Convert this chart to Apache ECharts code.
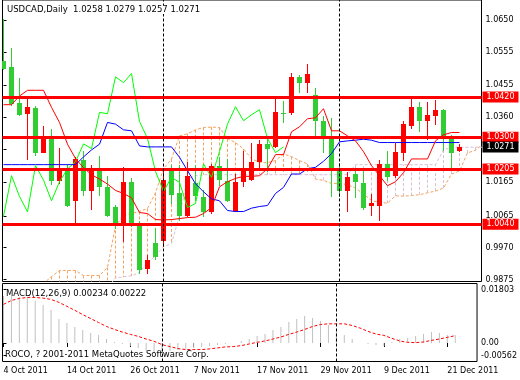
<!DOCTYPE html>
<html><head><meta charset="utf-8">
<script src="https://cdn.jsdelivr.net/npm/echarts@6/dist/echarts.min.js"></script>
<style>html,body{margin:0;padding:0;background:#fff}#c{width:520px;height:380px}</style>
</head><body><div id="c"></div>
<script>
const symbol = 'USDCAD', period = 'Daily';
const dates = ['2011-10-04','2011-10-05','2011-10-06','2011-10-07','2011-10-10','2011-10-11','2011-10-12','2011-10-13','2011-10-14','2011-10-17','2011-10-18','2011-10-19','2011-10-20','2011-10-21','2011-10-24','2011-10-25','2011-10-26','2011-10-27','2011-10-28','2011-10-31',
'2011-11-01','2011-11-02','2011-11-03','2011-11-04','2011-11-07','2011-11-08','2011-11-09','2011-11-10','2011-11-11','2011-11-14','2011-11-15','2011-11-16','2011-11-17','2011-11-18','2011-11-21','2011-11-22','2011-11-23','2011-11-24','2011-11-25','2011-11-28','2011-11-29','2011-11-30',
'2011-12-01','2011-12-02','2011-12-05','2011-12-06','2011-12-07','2011-12-08','2011-12-09','2011-12-12','2011-12-13','2011-12-14','2011-12-15','2011-12-16','2011-12-19','2011-12-20','2011-12-21','2011-12-22'];
const monthNames = ['Jan','Feb','Mar','Apr','May','Jun','Jul','Aug','Sep','Oct','Nov','Dec'];

const open  = [1.0528,1.0510,1.0403,1.0368,1.0388,1.0254,1.0296,1.0168,1.0207,1.0108,1.0233,1.0138,1.0205,1.0152,1.0093,1.0034,1.0165,1.0043,0.9906,0.9983,0.9991,1.0200,1.0134,1.0064,1.0163,1.0122,1.0078,1.0215,1.0170,1.0081,1.0165,1.0173,1.0225,1.0280,1.0271,1.0372,1.0371,1.0480,1.0463,1.0426,1.0349,1.0297,1.0200,1.0138,1.0190,1.0163,1.0094,1.0096,1.0220,1.0185,1.0252,1.0334,1.0391,1.0349,1.0364,1.0382,1.0301,1.0258];
const high  = [1.0653,1.0567,1.0478,1.0417,1.0392,1.0334,1.0325,1.0268,1.0220,1.0240,1.0260,1.0218,1.0245,1.0185,1.0099,1.0210,1.0177,1.0051,0.9947,1.0029,1.0202,1.0218,1.0218,1.0225,1.0218,1.0142,1.0220,1.0242,1.0235,1.0190,1.0260,1.0284,1.0291,1.0299,1.0414,1.0409,1.0493,1.0486,1.0520,1.0448,1.0364,1.0357,1.0222,1.0195,1.0205,1.0205,1.0130,1.0232,1.0260,1.0284,1.0347,1.0414,1.0404,1.0404,1.0411,1.0385,1.0307,1.0279];
const low   = [1.0500,1.0392,1.0364,1.0232,1.0245,1.0252,1.0156,1.0160,1.0092,1.0041,1.0125,1.0083,1.0125,1.0062,1.0027,0.9986,1.0031,0.9892,0.9892,0.9932,0.9973,1.0101,1.0051,1.0061,1.0110,1.0061,1.0072,1.0155,1.0105,1.0076,1.0150,1.0170,1.0205,1.0195,1.0268,1.0341,1.0367,1.0433,1.0433,1.0299,1.0254,1.0120,1.0120,1.0076,1.0118,1.0083,1.0064,1.0049,1.0170,1.0178,1.0228,1.0324,1.0314,1.0292,1.0336,1.0260,1.0202,1.0257];
const close = [1.0504,1.0399,1.0366,1.0391,1.0254,1.0299,1.0168,1.0204,1.0094,1.0235,1.0138,1.0204,1.0150,1.0064,1.0038,1.0165,1.0041,0.9904,0.9933,0.9941,1.0173,1.0128,1.0064,1.0185,1.0123,1.0077,1.0215,1.0172,1.0110,1.0167,1.0205,1.0227,1.0280,1.0266,1.0374,1.0370,1.0480,1.0463,1.0490,1.0347,1.0296,1.0198,1.0138,1.0180,1.0165,1.0090,1.0102,1.0220,1.0180,1.0257,1.0339,1.0391,1.0349,1.0367,1.0382,1.0296,1.0254,1.0271];

const tenkan = [1.0397,1.0397,1.0423,1.0440,1.0440,1.0440,1.0389,1.0344,1.0279,1.0236,1.0209,1.0188,1.0175,1.0160,1.0141,1.0132,1.0119,1.0075,1.0072,1.0054,1.0053,1.0054,1.0057,1.0060,1.0061,1.0072,1.0090,1.0152,1.0167,1.0177,1.0183,1.0183,1.0185,1.0206,1.0248,1.0248,1.0316,1.0331,1.0355,1.0358,1.0385,1.0319,1.0319,1.0304,1.0289,1.0257,1.0215,1.0185,1.0155,1.0167,1.0194,1.0235,1.0235,1.0235,1.0289,1.0307,1.0314,1.0314];
const kijun = [1.0218,1.0218,1.0218,1.0218,1.0218,1.0218,1.0218,1.0218,1.0218,1.0218,1.0241,1.0262,1.0279,1.0344,1.0339,1.0322,1.0319,1.0274,1.0271,1.0271,1.0271,1.0271,1.0240,1.0200,1.0161,1.0137,1.0116,1.0110,1.0081,1.0078,1.0078,1.0088,1.0093,1.0096,1.0132,1.0150,1.0190,1.0190,1.0206,1.0210,1.0228,1.0251,1.0286,1.0289,1.0291,1.0294,1.0291,1.0284,1.0284,1.0284,1.0284,1.0284,1.0284,1.0284,1.0284,1.0284,1.0284,1.0284];
const chikou = [1.0064,1.0185,1.0123,1.0077,1.0215,1.0172,1.0110,1.0167,1.0205,1.0227,1.0280,1.0266,1.0374,1.0370,1.0480,1.0463,1.0490,1.0347,1.0296,1.0198,1.0138,1.0180,1.0165,1.0090,1.0102,1.0220,1.0180,1.0257,1.0339,1.0391,1.0349,1.0367,1.0382,1.0296,1.0254,1.0271];
const senkouA = [0.9840,0.9840,0.9845,0.9850,0.9855,0.9863,0.9884,0.9902,0.9902,0.9902,0.9887,0.9887,0.9887,0.9911,1.0036,1.0066,1.0072,1.0078,1.0087,1.0134,1.0206,1.0235,1.0304,1.0310,1.0322,1.0329,1.0330,1.0329,1.0295,1.0284,1.0265,1.0236,1.0224,1.0224,1.0230,1.0250,1.0242,1.0230,1.0220,1.0175,1.0171,1.0162,1.0162,1.0158,1.0148,1.0130,1.0111,1.0105,1.0103,1.0125,1.0124,1.0126,1.0128,1.0134,1.0139,1.0148,1.0190,1.0199,1.0253,1.0261,1.0281];
const senkouB = [0.9850,0.9850,0.9850,0.9850,0.9850,0.9850,0.9850,0.9850,0.9850,0.9850,0.9850,0.9850,0.9850,0.9850,0.9880,0.9883,0.9886,0.9896,0.9925,0.9946,0.9973,0.9982,1.0066,1.0176,1.0185,1.0188,1.0188,1.0188,1.0188,1.0188,1.0188,1.0188,1.0188,1.0188,1.0188,1.0188,1.0188,1.0188,1.0188,1.0188,1.0188,1.0188,1.0188,1.0188,1.0218,1.0218,1.0218,1.0218,1.0218,1.0218,1.0218,1.0218,1.0218,1.0218,1.0218,1.0262,1.0270,1.0270,1.0270,1.0270,1.0270];

const levels = [1.0420, 1.0300, 1.0205, 1.0040];
const priceTicks = [0.9875, 0.9970, 1.0065, 1.0165, 1.0265, 1.0360, 1.0455, 1.0555, 1.0650];

const macdMain = [0.0143,0.0141,0.0139,0.0136,0.0128,0.0115,0.0100,0.0072,0.0061,0.0049,0.0039,0.0029,0.0025,0.0013,0.0003,-0.0003,-0.0008,-0.0016,-0.0023,-0.0029,-0.0026,-0.0023,-0.0022,-0.0018,-0.0014,-0.0013,-0.0009,-0.0006,-0.0004,-0.0001,0.0006,0.0011,0.0020,0.0027,0.0039,0.0049,0.0064,0.0074,0.0082,0.0077,0.0066,0.0053,0.0034,0.0024,0.0011,0.0001,-0.0004,-0.0005,-0.0008,0.0003,0.0011,0.0014,0.0020,0.0027,0.0032,0.0030,0.0025,0.00234];
const macdSignal = [0.0117,0.0129,0.0135,0.0138,0.0138,0.0136,0.0132,0.0123,0.0111,0.0099,0.0086,0.0074,0.0062,0.0050,0.0041,0.0033,0.0026,0.0020,0.0012,0.0005,-0.0005,-0.0011,-0.0017,-0.0020,-0.0020,-0.0020,-0.0018,-0.0015,-0.0012,-0.0011,-0.0008,-0.0003,0.0002,0.0006,0.0012,0.0018,0.0026,0.0033,0.0041,0.0050,0.0056,0.0058,0.0058,0.0058,0.0053,0.0045,0.0035,0.0027,0.0023,0.0014,0.0006,0.0002,0.0001,0.0003,0.0008,0.0012,0.0017,0.00222];
const macdMin = -0.00562, macdMax = 0.01803;

const FONT = 'DejaVu Sans';
const N = close.length;
const last = N - 1;

function fmtDate(s){ const [y,m,d] = s.split('-'); return (+d) + ' ' + monthNames[+m-1] + ' ' + y; }
const labelIdx = dates.map((d,i)=>i).filter(i => i % 8 === 0);
const sepIdx = dates.map((d,i)=>i).filter(i => i > 0 && dates[i].slice(5,7) !== dates[i-1].slice(5,7));

const ohlc = open.map((o,i)=>[i, o, high[i], low[i], close[i]]);
const pairs = arr => arr.map((v,i)=>[i,v]);
const cloud = senkouA.map((a,i)=>[i, a, senkouB[i]]);

const xRange = {min: -0.125, max: 59.75};
const sepMark = {
  symbol:['none','none'], silent:true, animation:false, precision:4,
  label:{show:false},
  lineStyle:{color:'#000', type:[3,2], width:1},
  data: sepIdx.map(i=>({xAxis:i}))
};

const option = {
  animation:false,
  backgroundColor:'#fff',
  title:[
    {text: symbol + ',' + period + '  ' + [open[last],high[last],low[last],close[last]].map(v=>v.toFixed(4)).join(' '),
     left:6, top:5, padding:[0,1], backgroundColor:'#fff',
     textStyle:{fontFamily:FONT, fontSize:8.5, fontWeight:'normal', color:'#000'}},
    {text: 'MACD(12,26,9) ' + macdMain[last].toFixed(5) + ' ' + macdSignal[last].toFixed(5),
     left:6, top:289, padding:0,
     textStyle:{fontFamily:FONT, fontSize:8.5, fontWeight:'normal', color:'#000'}},
    {text: 'ROCO, ? 2001-2011 MetaQuotes Software Corp.',
     left:5, top:350, padding:0,
     textStyle:{fontFamily:FONT, fontSize:8.5, fontWeight:'normal', color:'#000'}}
  ],
  grid:[
    {left:2.5, right:38.5, top:-0.5, height:282, show:true, borderColor:'#000', borderWidth:1},
    {left:2.5, right:38.5, top:283.5, height:78, show:true, borderColor:'#000', borderWidth:1}
  ],
  xAxis:[
    {gridIndex:0, type:'value', min:xRange.min, max:xRange.max, axisLine:{show:false}, axisTick:{show:false}, axisLabel:{show:false}, splitLine:{show:false}},
    {gridIndex:1, type:'value', min:xRange.min, max:xRange.max, axisLine:{show:false},
     axisTick:{show:true, length:4, lineStyle:{color:'#000'}, customValues:labelIdx},
     axisLabel:{show:true, customValues:labelIdx, formatter:v=>fmtDate(dates[Math.round(v)]), align:'left', margin:5,
       fontFamily:FONT, fontSize:8, color:'#000'},
     splitLine:{show:false}}
  ],
  yAxis:[
    {gridIndex:0, type:'value', position:'right', min:0.98691, max:1.07096, scale:true,
     axisLine:{show:false}, splitLine:{show:false},
     axisTick:{show:true, length:3, lineStyle:{color:'#000'}, customValues:priceTicks},
     axisLabel:{show:true, customValues:priceTicks, formatter:v=>v.toFixed(4), margin:4, fontFamily:FONT, fontSize:8, color:'#000'}},
    {gridIndex:1, type:'value', position:'right', min:macdMin, max:macdMax,
     axisLine:{show:false}, splitLine:{show:false},
     axisTick:{show:true, length:3, lineStyle:{color:'#000'}, customValues:[0.0162, 0, -0.0038]},
     axisLabel:{show:true, customValues:[macdMax, 0, macdMin], margin:4,
       formatter:v=> v===macdMax ? '{t|'+v.toFixed(5)+'}' : (v===macdMin ? '{b|'+v.toFixed(5)+'}' : v.toFixed(2)),
       fontFamily:FONT, fontSize:8, color:'#000',
       rich:{t:{fontFamily:FONT, fontSize:8, color:'#000', padding:[12,0,0,0]}, b:{fontFamily:FONT, fontSize:8, color:'#000', padding:[0,0,12,0]}}}}
  ],
  series:[
    {type:'custom', xAxisIndex:0, yAxisIndex:0, clip:true, silent:true, z:1, data:cloud,
     renderItem:(p,api)=>{
       const i=api.value(0), a=api.value(1), b=api.value(2);
       const pa=api.coord([i,a]), pb=api.coord([i,b]);
       return {type:'line', shape:{x1:pa[0], y1:pa[1], x2:pb[0], y2:pb[1]},
         style:{stroke: a>=b ? '#f4a460' : '#d8bfd8', lineWidth:1, lineDash:[3,2]}};
     }},
    {type:'line', xAxisIndex:0, yAxisIndex:0, data:pairs(senkouA), symbol:'none', clip:true, silent:true, z:2,
     lineStyle:{color:'#f4a460', width:1, type:[3,2]}},
    {type:'line', xAxisIndex:0, yAxisIndex:0, data:pairs(senkouB), symbol:'none', clip:true, silent:true, z:2,
     lineStyle:{color:'#d8bfd8', width:1, type:[3,2]}},
    {type:'custom', xAxisIndex:0, yAxisIndex:0, clip:true, silent:true, z:3, data:ohlc,
     renderItem:(p,api)=>{
       const i=api.value(0), o=api.value(1), h=api.value(2), l=api.value(3), c=api.value(4);
       const po=api.coord([i,o]), pc=api.coord([i,c]), ph=api.coord([i,h]), pl=api.coord([i,l]);
       const x=po[0];
       const col = c>=o ? '#ff0000' : '#32cd32';
       const bw = api.size([1,0])[0]*0.625;
       const top=Math.round(Math.min(po[1],pc[1])), bot=Math.round(Math.max(po[1],pc[1]));
       return {type:'group', children:[
         {type:'line', shape:{x1:x, y1:Math.round(ph[1]), x2:x, y2:Math.round(pl[1])}, style:{stroke:col, lineWidth:1}},
         {type:'rect', shape:{x:x-bw/2, y:top, width:bw, height:Math.max(1,bot-top)}, style:{fill:col}}
       ]};
     }},
    {type:'line', xAxisIndex:0, yAxisIndex:0, data:pairs(chikou), symbol:'none', clip:true, silent:true, z:4,
     lineStyle:{color:'#00ff00', width:1}},
    {type:'line', xAxisIndex:0, yAxisIndex:0, data:pairs(kijun), symbol:'none', clip:true, silent:true, z:4,
     lineStyle:{color:'#0000ff', width:1}},
    {type:'line', xAxisIndex:0, yAxisIndex:0, data:pairs(tenkan), symbol:'none', clip:true, silent:true, z:4,
     lineStyle:{color:'#ff0000', width:1}},
    {type:'line', xAxisIndex:0, yAxisIndex:0, data:[], symbol:'none', silent:true, z:5,
     markLine:{symbol:['none','none'], silent:true, animation:false, precision:4,
       lineStyle:{color:'#ff0000', width:3, type:'solid'},
       label:{show:true, position:'end', distance:1, formatter:p=>Number(p.value).toFixed(4),
         backgroundColor:'#ff0000', color:'#fff', padding:[2,4,1,4], fontFamily:FONT, fontSize:8},
       data: levels.map(v=>({yAxis:v}))}},
    {type:'line', xAxisIndex:0, yAxisIndex:0, data:[], symbol:'none', silent:true, z:6,
     markLine:{symbol:['none','none'], silent:true, animation:false, precision:4,
       lineStyle:{color:'rgba(0,0,0,0)', width:1, type:'solid'},
       label:{show:true, position:'end', distance:1, formatter:p=>Number(p.value).toFixed(4),
         backgroundColor:'#000', color:'#fff', padding:[2,4,1,4], fontFamily:FONT, fontSize:8},
       data: [{yAxis: close[last]}]}},
    {type:'line', xAxisIndex:0, yAxisIndex:0, data:[], symbol:'none', silent:true, z:5, markLine:sepMark},
    {type:'custom', xAxisIndex:1, yAxisIndex:1, clip:true, silent:true, z:2, data:pairs(macdMain),
     renderItem:(p,api)=>{
       const i=api.value(0), v=api.value(1);
       const p0=api.coord([i,0]), p1=api.coord([i,v]);
       return {type:'line', shape:{x1:p0[0], y1:Math.round(p0[1]), x2:p0[0], y2:Math.round(p1[1])}, style:{stroke:'#c0c0c0', lineWidth:1}};
     }},
    {type:'line', xAxisIndex:1, yAxisIndex:1, data:pairs(macdSignal), symbol:'none', clip:true, silent:true, z:3,
     lineStyle:{color:'#ff0000', width:1, type:[3,2]}, markLine:sepMark}
  ]
};
const chart = echarts.init(document.getElementById('c'), null, {renderer:'canvas'});
chart.setOption(option);
</script></body></html>
